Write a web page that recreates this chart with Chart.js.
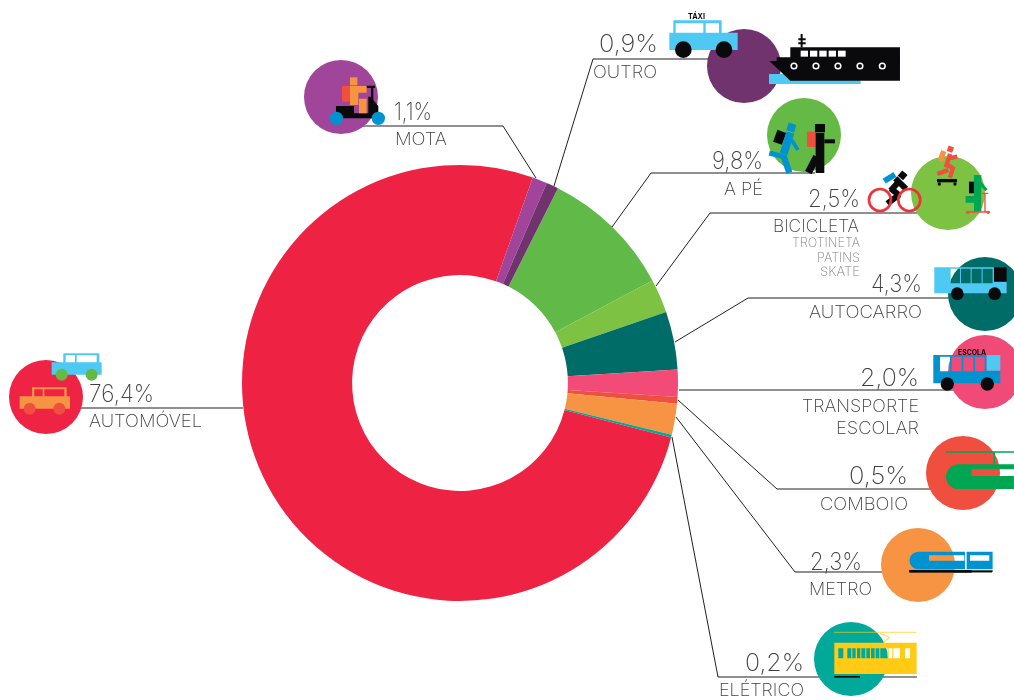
<!DOCTYPE html>
<html lang="pt">
<head>
<meta charset="UTF-8">
<title>Repartição modal</title>
<script src="https://cdn.jsdelivr.net/npm/chart.js@4"></script>
<style>
  * { margin: 0; padding: 0; box-sizing: border-box; }
  html, body { width: 1014px; height: 700px; overflow: hidden; background: #fff; }
  canvas, svg { position: absolute; left: 0; top: 0; }
  text { font-family: Inter, sans-serif; font-weight: 200; fill: #3f4042; }
</style>
</head>
<body>
<canvas id="chart" width="1014" height="700"></canvas>

<svg id="overlay" width="1014" height="700" viewBox="0 0 1014 700">
  <!-- leader lines -->
  <g fill="none" stroke="#231f20" stroke-width="1">
    <polyline points="362,126 503,126 536,178"/>
    <polyline points="708,59 593,59 554,186"/>
    <polyline points="815,173 651,173 612,227"/>
    <polyline points="920,213 710,213 656,286"/>
    <polyline points="952,298 748,298 675,342"/>
    <polyline points="987,390 679,390"/>
    <polyline points="930,489 777,489 678,400"/>
    <polyline points="992,572 795,572 676,417"/>
    <polyline points="917,677 718,677 672,437"/>
    <polyline points="71,408 243,408"/>
  </g>

  <!-- icon discs -->
  <circle cx="341" cy="97" r="37" fill="#a0459a"/>
  <circle cx="744" cy="66" r="37" fill="#70336e"/>
  <circle cx="804" cy="135" r="37" fill="#65b945"/>
  <circle cx="948" cy="193" r="37" fill="#7dc242"/>
  <circle cx="985" cy="294" r="37" fill="#006c68"/>
  <circle cx="985" cy="372" r="37" fill="#f04a78"/>
  <circle cx="963" cy="473" r="37" fill="#f04e3e"/>
  <circle cx="918" cy="565" r="37" fill="#f79443"/>
  <circle cx="851" cy="659" r="37" fill="#00a99a"/>
  <circle cx="46" cy="397" r="37" fill="#ef2344"/>

  <!-- mota -->
  <g transform="translate(290,0) scale(.3333)">
    <rect x="180" y="232" width="22" height="24" fill="#f79443"/>
    <rect x="156" y="258" width="24" height="47" fill="#f04e3e"/>
    <path d="M138 318H192V340H235V290H243V264H228V257H255V264H250V300L265 318V355H138Z" fill="#0a0a0c"/>
    <path d="M180 258H230V340H207V296H230V278H205V315H180Z" fill="#f79443"/>
    <circle cx="139" cy="355" r="20" fill="#0093d0"/>
    <circle cx="265" cy="355" r="20" fill="#0093d0"/>
  </g>

  <!-- taxi + barco -->
  <g transform="translate(620,0) scale(.3333)">
    <path d="M160 61H305V98H353V150H148V98H160ZM167 70V98H250V70ZM257 70V98H297V70Z" fill="#4dc9f3" fill-rule="evenodd"/>
    <circle cx="190" cy="149" r="25" fill="#0a0a0c"/>
    <circle cx="312" cy="149" r="25" fill="#0a0a0c"/>
    <rect x="447" y="222" width="275" height="30" fill="#4dc9f3"/>
    <path d="M448 183H470V172H511V142H840V242H511Z" fill="#0a0a0c"/>
    <path d="M545 102V142M535 118H557M535 130H557" stroke="#0a0a0c" stroke-width="6"/>
    <g fill="#fff">
      <rect x="542" y="152" width="22" height="18"/><rect x="570" y="152" width="22" height="18"/>
      <rect x="598" y="152" width="22" height="18"/><rect x="626" y="152" width="22" height="18"/>
      <rect x="654" y="152" width="23" height="18"/>
    </g>
    <g fill="none" stroke="#fff" stroke-width="4.5">
      <circle cx="522" cy="198" r="8.5"/><circle cx="588" cy="198" r="8.5"/><circle cx="654" cy="198" r="8.5"/>
      <circle cx="720" cy="198" r="8.5"/><circle cx="787" cy="198" r="8.5"/>
    </g>

    <!-- a pé -->
    <rect x="502" y="371" width="24" height="24" fill="#0093d0" transform="rotate(18 514 383)"/>
    <rect x="465" y="393" width="28" height="38" fill="#0a0a0c" transform="rotate(20 479 412)"/>
    <g fill="none" stroke="#0093d0" stroke-linejoin="miter">
      <path d="M511 398L491 462" stroke-width="24"/>
      <path d="M515 420L534 450" stroke-width="11"/>
      <path d="M490 470L448 459" stroke-width="15"/>
      <path d="M490 465L508 518" stroke-width="19"/>
    </g>
    <rect x="561" y="395" width="26" height="46" fill="#f04e3e"/>
    <rect x="585" y="372" width="30" height="25" fill="#0a0a0c"/>
    <rect x="587" y="399" width="26" height="120" fill="#0a0a0c"/>
    <rect x="613" y="418" width="32" height="12" fill="#0a0a0c"/>
    <path d="M590 470L565 518" stroke="#0a0a0c" stroke-width="22"/>

    <!-- bicicleta -->
    <rect x="790" y="525" width="38" height="17" fill="#0093d0" transform="rotate(-32 809 534)"/>
    <rect x="837" y="516" width="21" height="21" fill="#0a0a0c" transform="rotate(40 848 527)"/>
    <path d="M826 535L858 567M836 545L812 572M812 565L838 586M838 584L802 611" fill="none" stroke="#0a0a0c" stroke-width="18"/>
    <circle cx="780" cy="600" r="33" fill="none" stroke="#ee3338" stroke-width="8"/>
    <circle cx="868" cy="600" r="33" fill="none" stroke="#ee3338" stroke-width="8"/>

    <!-- patins / trotinete -->
    <rect x="983" y="439" width="17" height="17" fill="#f04e3e" transform="rotate(20 991 447)"/>
    <rect x="958" y="452" width="16" height="32" fill="#f79443" transform="rotate(20 966 468)"/>
    <path d="M990 462L978 502M985 475L1012 470M975 490L1000 505M1000 500L990 533M985 510L952 522" fill="none" stroke="#f04e3e" stroke-width="13"/>
    <rect x="951" y="537" width="60" height="10" fill="#0a0a0c"/>
    <circle cx="958" cy="552" r="5" fill="#0a0a0c"/>
    <circle cx="1005" cy="552" r="5" fill="#0a0a0c"/>
    <rect x="1047" y="545" width="15" height="35" fill="#0a0a0c"/>
    <path d="M1062 525H1084V545L1103 568L1096 574L1084 560V635H1062V608H1037V588H1062Z" fill="#00a651"/>
    <path d="M1085 580H1105M1095 580V636M1040 636H1108" stroke="#f04e3e" stroke-width="4" fill="none"/>
    <circle cx="1043" cy="637" r="5" fill="#f04e3e"/>
    <circle cx="1105" cy="637" r="5" fill="#f04e3e"/>
  </g>

  <!-- autocarro + transporte escolar -->
  <g transform="translate(640,180) scale(.3333)">
    <path d="M883 262H1062V305H1100V340H883ZM932 266V310H960V266ZM963 266V310H992V266ZM995 266V310H1025V266ZM1028 266V310H1058V266Z" fill="#4dc9f3" fill-rule="evenodd"/>
    <rect x="1062" y="262" width="38" height="43" fill="#0a0a0c"/>
    <circle cx="952" cy="341" r="19" fill="#0a0a0c"/>
    <circle cx="1064" cy="341" r="19" fill="#0a0a0c"/>

    <path d="M880 525H1040V572H1081V610H880ZM900 530V574H930V530ZM935 530V574H965V530ZM970 530V574H1000V530ZM1005 530V574H1034V530Z" fill="#0093d0" fill-rule="evenodd"/>
    <rect x="1040" y="525" width="41" height="47" fill="#4dc9f3"/>
    <circle cx="922" cy="612" r="20" fill="#0a0a0c"/>
    <circle cx="1042" cy="612" r="20" fill="#0a0a0c"/>
  </g>

  <!-- comboio, metro, eletrico -->
  <g transform="translate(640,430) scale(.3333)">
    <path d="M918 66H1122M1063 66V103" stroke="#00a651" stroke-width="4" fill="none"/>
    <path d="M955 103H1122V177H955A37 37 0 0 1 955 103ZM995 118V138H1122V118Z" fill="#00a651" fill-rule="evenodd"/>

    <path d="M835 365H975V418H835A26.500 26.500 0 0 1 835 365ZM867 376V392H973V376Z" fill="#0093d0" fill-rule="evenodd"/>
    <path d="M980 365H1058V418H980ZM990 376V392H1048V376Z" fill="#0093d0" fill-rule="evenodd"/>
    <rect x="808" y="420" width="187" height="8" fill="#0a0a0c"/>
    <rect x="808" y="421" width="250" height="5" fill="#0a0a0c"/>

    <path d="M583 607H830M720 610L748 622L730 638" stroke="#ffcb14" stroke-opacity=".55" stroke-width="4" fill="none"/>
    <path d="M583 638H830V732H583ZM595 655V685H610V655ZM622 655V685H634V655ZM637 655V685H647V655ZM651 655V685H661V655ZM664 655V685H676V655ZM679 655V685H690V655ZM693 655V685H704V655ZM707 655V685H718V655ZM721 655V685H743V655ZM746 655V685H757V655ZM760 655V685H780V655ZM795 655V685H810V655Z" fill="#ffcb14" fill-rule="evenodd"/>
    <rect x="583" y="738" width="77" height="5" fill="#0a0a0c"/>
  </g>

  <!-- automovel -->
  <g transform="translate(0,340) scale(.3333)">
    <path d="M190 40H298V67H305V104H155V67H190ZM197 46V67H225V46ZM230 46V67H290V46Z" fill="#4dc9f3" fill-rule="evenodd"/>
    <circle cx="185" cy="104" r="18" fill="#65b945"/>
    <circle cx="275" cy="104" r="18" fill="#65b945"/>
    <path d="M96 142H200V169H210V206H59V169H96ZM103 148V169H128V148ZM133 148V169H193V148Z" fill="#f79443" fill-rule="evenodd"/>
    <circle cx="89" cy="206" r="18" fill="#f04e3e"/>
    <circle cx="178" cy="206" r="18" fill="#f04e3e"/>
  </g>
  <g id="labels"></g>
</svg>

<script>
  // data, clockwise from the A PE slice
  const categories = ['A PÉ', 'BICICLETA', 'AUTOCARRO', 'TRANSPORTE ESCOLAR', 'COMBOIO', 'METRO', 'ELÉTRICO', 'AUTOMÓVEL', 'MOTA', 'OUTRO'];
  const shares = [9.8, 2.5, 4.3, 2.0, 0.5, 2.3, 0.2, 76.4, 1.1, 0.9];
  const bikeExtras = ['TROTINETA', 'PATINS', 'SKATE'];

  const sliceColors = ['#61b947', '#7dc242', '#006c68', '#f24b78', '#f04e3e', '#f79443', '#00a99a', '#ee2243', '#a0459a', '#70336e'];

  new Chart(document.getElementById('chart'), {
    type: 'doughnut',
    data: {
      labels: categories,
      datasets: [{ data: shares, backgroundColor: sliceColors, borderWidth: 0 }]
    },
    options: {
      responsive: false,
      animation: false,
      rotation: 26.7,
      radius: 218,
      cutout: '49.5%',
      layout: { padding: { right: 94, top: 66 } },
      plugins: { legend: { display: false }, tooltip: { enabled: false } }
    }
  });

  // text: [x left, x right, baseline] per line
  const valuePlaces = [[712, 763, 169], [808, 860, 207], [871, 922, 292], [860, 919, 386], [849, 908, 484], [810, 862, 570], [745, 804, 671], [89, 154, 402], [394, 432, 120], [599, 658, 52]];
  const namePlaces = [[724, 763, 195], [773, 859, 232], [809, 922, 318], null, [820, 908, 510], [809, 872, 595], [719, 804, 696], [89, 202, 427], [395, 447, 145], [593, 657, 78]];
  const extraPlaces = [[792, 860, 247], [817, 860, 262], [820, 860, 276]];

  const layer = document.getElementById('labels');
  function addText(str, place, size, color, weight) {
    const t = document.createElementNS('http://www.w3.org/2000/svg', 'text');
    t.textContent = str;
    t.setAttribute('x', place[0]);
    t.setAttribute('y', place[2]);
    t.setAttribute('font-size', size);
    t.setAttribute('textLength', place[1] - place[0]);
    t.setAttribute('lengthAdjust', 'spacingAndGlyphs');
    if (color) t.style.fill = color;
    if (weight) t.style.fontWeight = weight;
    layer.appendChild(t);
  }

  categories.forEach((name, i) => {
    addText(shares[i].toFixed(1).replace('.', ',') + '%', valuePlaces[i], 24);
    if (namePlaces[i]) addText(name, namePlaces[i], 17.5);
  });
  addText('TRANSPORTE', [802, 919, 412], 17.5);
  addText('ESCOLAR', [836, 919, 434], 17.5);
  bikeExtras.forEach((name, i) => addText(name, extraPlaces[i], 13, '#808285'));

  // small lettering on the vehicles
  addText('TÁXI', [688, 705, 19], 8, '#0a0a0c', 700);
  addText('ESCOLA', [958, 986, 355], 7, '#0a0a0c', 700);
</script>
</body>
</html>
